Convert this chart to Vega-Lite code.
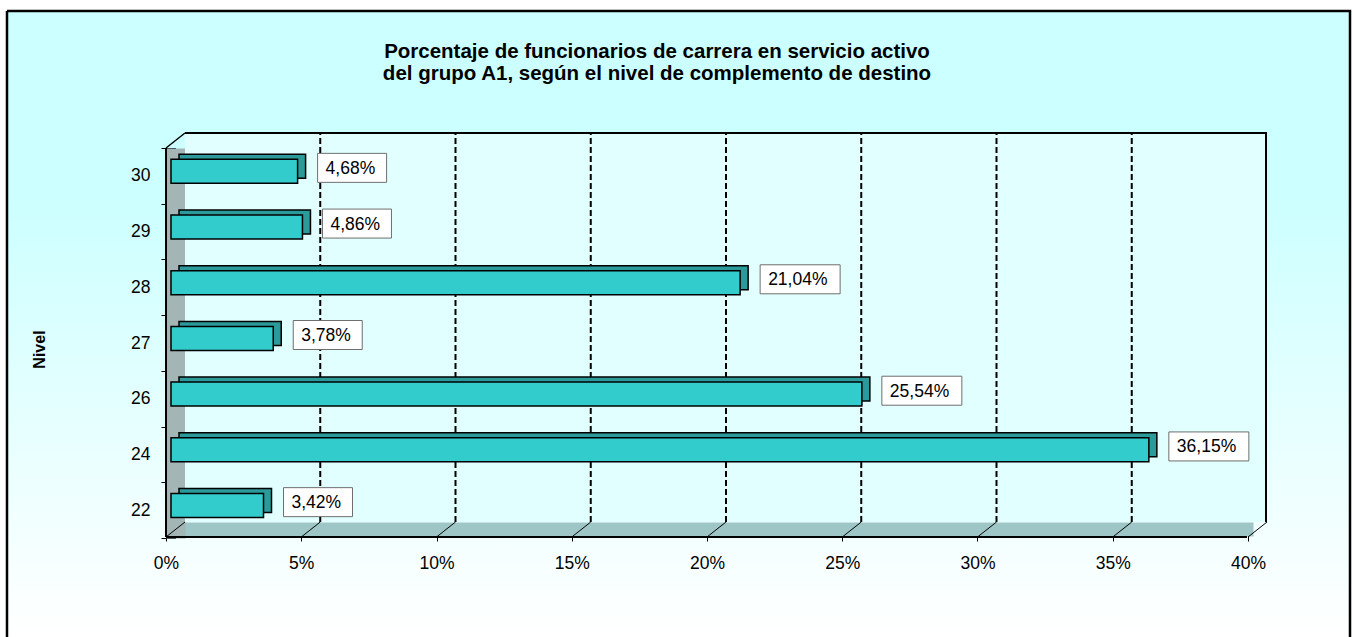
{
  "$schema": "https://vega.github.io/schema/vega-lite/v6.json",
  "width": 1343,
  "height": 626,
  "autosize": {"type": "none"},
  "padding": {"left": 7, "top": 11, "right": 3, "bottom": 0},
  "background": "white",
  "config": {
    "font": "Liberation Sans",
    "locale": {"number": {"decimal": ",", "thousands": ".", "grouping": [3], "currency": ["", " €"]}},
    "view": {
      "fill": {"gradient": "linear", "x1": 0, "y1": 0, "x2": 0, "y2": 1,
        "stops": [{"offset": 0, "color": "#CCFFFF"}, {"offset": 0.3, "color": "#CCFFFF"}, {"offset": 1, "color": "#FFFFFF"}]},
      "stroke": "black",
      "strokeWidth": 2.5,
      "strokeDash": [1969, 1343, 626, 0]
    }
  },
  "title": {
    "text": ["Porcentaje de funcionarios de carrera en servicio activo", "del grupo A1, según el nivel de complemento de destino"],
    "anchor": "middle",
    "frame": "group",
    "dx": -21.5,
    "offset": -82,
    "fontSize": 20.5,
    "fontWeight": "bold",
    "color": "black",
    "lineHeight": 22
  },
  "data": {"values": [
    {"nivel": "30", "pct": 0.0468},
    {"nivel": "29", "pct": 0.0486},
    {"nivel": "28", "pct": 0.2104},
    {"nivel": "27", "pct": 0.0378},
    {"nivel": "26", "pct": 0.2554},
    {"nivel": "24", "pct": 0.3615},
    {"nivel": "22", "pct": 0.0342}
  ]},
  "layer": [
    {
      "layer": [
        {
          "data": {"values": [{"part": "wall"}]},
          "mark": {"type": "rect", "fill": "#E2FFFF", "stroke": "black", "strokeWidth": 2, "strokeDash": [1470, 1470], "xOffset": 14, "x2Offset": 13},
          "encoding": {
            "x": {"datum": 0, "type": "quantitative", "scale": {"domain": [0, 0.4], "range": [164, 1246], "nice": false, "zero": false},
              "axis": {"orient": "bottom", "offset": -108, "values": [0, 0.05, 0.1, 0.15, 0.2, 0.25, 0.3, 0.35, 0.4], "format": ".0%", "tickOffset": -5, "domainColor": "#9FC6C6", "domainWidth": 14, "tickColor": "black", "tickSize": 12, "tickWidth": 1, "labelFontSize": 17.5, "labelColor": "black", "labelPadding": 13, "labelFlush": false, "labelOverlap": false, "title": null, "grid": false}},
            "x2": {"datum": 0.4},
            "y": {"datum": 0, "type": "quantitative", "scale": {"domain": [0, 1], "range": [511, 122], "nice": false, "zero": false}, "axis": null},
            "y2": {"datum": 1}
          }
        },
        {
          "data": {"values": [{"g": 0.05}, {"g": 0.1}, {"g": 0.15}, {"g": 0.2}, {"g": 0.25}, {"g": 0.3}, {"g": 0.35}]},
          "mark": {"type": "rule", "stroke": "black", "strokeWidth": 2, "strokeDash": [6, 3], "xOffset": 14},
          "encoding": {
            "x": {"field": "g", "type": "quantitative", "scale": {"domain": [0, 0.4], "range": [164, 1246], "nice": false, "zero": false},
              "axis": {"orient": "bottom", "offset": -108, "values": [0, 0.05, 0.1, 0.15, 0.2, 0.25, 0.3, 0.35, 0.4], "format": ".0%", "tickOffset": -5, "domainColor": "#9FC6C6", "domainWidth": 14, "tickColor": "black", "tickSize": 12, "tickWidth": 1, "labelFontSize": 17.5, "labelColor": "black", "labelPadding": 13, "labelFlush": false, "labelOverlap": false, "title": null, "grid": false}},
            "y": {"datum": 0, "type": "quantitative", "scale": {"domain": [0, 1], "range": [511, 122], "nice": false, "zero": false}, "axis": null},
            "y2": {"datum": 1}
          }
        },
        {
          "data": {"values": [{"g": 0}, {"g": 0.05}, {"g": 0.1}, {"g": 0.15}, {"g": 0.2}, {"g": 0.25}, {"g": 0.3}, {"g": 0.35}, {"g": 0.4}]},
          "mark": {"type": "rule", "stroke": "black", "strokeWidth": 1, "xOffset": 14, "x2Offset": -5, "y2Offset": 15},
          "encoding": {
            "x": {"field": "g", "type": "quantitative", "scale": {"domain": [0, 0.4], "range": [164, 1246], "nice": false, "zero": false},
              "axis": {"orient": "bottom", "offset": -108, "values": [0, 0.05, 0.1, 0.15, 0.2, 0.25, 0.3, 0.35, 0.4], "format": ".0%", "tickOffset": -5, "domainColor": "#9FC6C6", "domainWidth": 14, "tickColor": "black", "tickSize": 12, "tickWidth": 1, "labelFontSize": 17.5, "labelColor": "black", "labelPadding": 13, "labelFlush": false, "labelOverlap": false, "title": null, "grid": false}},
            "x2": {"field": "g"},
            "y": {"datum": 0, "type": "quantitative", "scale": {"domain": [0, 1], "range": [511, 122], "nice": false, "zero": false}, "axis": null},
            "y2": {"datum": 0}
          }
        },
        {
          "data": {"values": [{"part": "floor front"}]},
          "mark": {"type": "rule", "stroke": "black", "strokeWidth": 2, "xOffset": -5, "x2Offset": -6, "yOffset": 15, "y2Offset": 15},
          "encoding": {
            "x": {"datum": 0, "type": "quantitative", "scale": {"domain": [0, 0.4], "range": [164, 1246], "nice": false, "zero": false},
              "axis": {"orient": "bottom", "offset": -108, "values": [0, 0.05, 0.1, 0.15, 0.2, 0.25, 0.3, 0.35, 0.4], "format": ".0%", "tickOffset": -5, "domainColor": "#9FC6C6", "domainWidth": 14, "tickColor": "black", "tickSize": 12, "tickWidth": 1, "labelFontSize": 17.5, "labelColor": "black", "labelPadding": 13, "labelFlush": false, "labelOverlap": false, "title": null, "grid": false}},
            "x2": {"datum": 0.4},
            "y": {"datum": 0, "type": "quantitative", "scale": {"domain": [0, 1], "range": [511, 122], "nice": false, "zero": false}, "axis": null},
            "y2": {"datum": 0}
          }
        },
        {
          "data": {"values": [{"part": "wall front"}]},
          "mark": {"type": "rule", "stroke": "black", "strokeWidth": 2, "xOffset": -5, "x2Offset": -5, "yOffset": 15, "y2Offset": 15},
          "encoding": {
            "x": {"datum": 0, "type": "quantitative", "scale": {"domain": [0, 0.4], "range": [164, 1246], "nice": false, "zero": false},
              "axis": {"orient": "bottom", "offset": -108, "values": [0, 0.05, 0.1, 0.15, 0.2, 0.25, 0.3, 0.35, 0.4], "format": ".0%", "tickOffset": -5, "domainColor": "#9FC6C6", "domainWidth": 14, "tickColor": "black", "tickSize": 12, "tickWidth": 1, "labelFontSize": 17.5, "labelColor": "black", "labelPadding": 13, "labelFlush": false, "labelOverlap": false, "title": null, "grid": false}},
            "x2": {"datum": 0},
            "y": {"datum": 0, "type": "quantitative", "scale": {"domain": [0, 1], "range": [511, 122], "nice": false, "zero": false}, "axis": null},
            "y2": {"datum": 1}
          }
        },
        {
          "data": {"values": [{"part": "wall top"}]},
          "mark": {"type": "rule", "stroke": "black", "strokeWidth": 1.5, "xOffset": -5, "x2Offset": 14, "yOffset": 15, "y2Offset": 0},
          "encoding": {
            "x": {"datum": 0, "type": "quantitative", "scale": {"domain": [0, 0.4], "range": [164, 1246], "nice": false, "zero": false},
              "axis": {"orient": "bottom", "offset": -108, "values": [0, 0.05, 0.1, 0.15, 0.2, 0.25, 0.3, 0.35, 0.4], "format": ".0%", "tickOffset": -5, "domainColor": "#9FC6C6", "domainWidth": 14, "tickColor": "black", "tickSize": 12, "tickWidth": 1, "labelFontSize": 17.5, "labelColor": "black", "labelPadding": 13, "labelFlush": false, "labelOverlap": false, "title": null, "grid": false}},
            "x2": {"datum": 0},
            "y": {"datum": 1, "type": "quantitative", "scale": {"domain": [0, 1], "range": [511, 122], "nice": false, "zero": false}, "axis": null},
            "y2": {"datum": 1}
          }
        }
      ]
    },
    {
      "encoding": {
        "x": {"field": "pct", "type": "quantitative", "scale": {"domain": [0, 0.4], "range": [164, 1246], "nice": false, "zero": false},
          "axis": {"orient": "bottom", "offset": -108, "values": [0, 0.05, 0.1, 0.15, 0.2, 0.25, 0.3, 0.35, 0.4], "format": ".0%", "tickOffset": -5, "domainColor": "#9FC6C6", "domainWidth": 14, "tickColor": "black", "tickSize": 12, "tickWidth": 1, "labelFontSize": 17.5, "labelColor": "black", "labelPadding": 13, "labelFlush": false, "labelOverlap": false, "title": null, "grid": false}},
        "y": {"field": "nivel", "type": "nominal",
          "scale": {"type": "band", "domain": ["30", "29", "28", "27", "26", "24", "22"], "range": [137, 527], "paddingInner": 0, "paddingOuter": 0},
          "axis": {"orient": "left", "offset": -168.5, "domainColor": "#A3B5B5", "domainWidth": 19, "tickBand": "extent", "tickColor": "black", "tickSize": 14.5, "tickWidth": 1,
            "labelFontSize": 17.5, "labelColor": "black", "labelPadding": 11, "labelAngle": 0, "grid": false,
            "title": "Nivel", "titleFontSize": 16, "titleFontWeight": "bold", "titleColor": "black", "titleX": -136, "titleY": 338, "titleAngle": -90, "titleAlign": "center", "titleBaseline": "middle"}}
      },
      "layer": [
        {
          "mark": {"type": "bar", "height": 24, "yOffset": -9.6, "xOffset": 8, "x2Offset": 8, "fill": "#2A9A9A", "stroke": "black", "strokeWidth": 1.5}
        },
        {
          "mark": {"type": "bar", "height": 24, "yOffset": -4.6, "fill": "#33CCCC", "stroke": "black", "strokeWidth": 1.5}
        },
        {
          "transform": [{"filter": "datum.pct < 0.1"}],
          "mark": {"type": "bar", "height": 29, "yOffset": -8, "xOffset": 20, "x2Offset": 89, "fill": "white", "stroke": "#6E6E6E", "strokeWidth": 1},
          "encoding": {"x2": {"field": "pct"}}
        },
        {
          "transform": [{"filter": "datum.pct >= 0.1"}],
          "mark": {"type": "bar", "height": 29, "yOffset": -8, "xOffset": 20, "x2Offset": 100, "fill": "white", "stroke": "#6E6E6E", "strokeWidth": 1},
          "encoding": {"x2": {"field": "pct"}}
        },
        {
          "mark": {"type": "text", "align": "left", "baseline": "middle", "xOffset": 28, "yOffset": -7, "fontSize": 17.5, "color": "black"},
          "encoding": {"text": {"field": "pct", "type": "quantitative", "format": ".2%"}}
        }
      ]
    }
  ],
  "resolve": {"scale": {"y": "independent"}}
}
